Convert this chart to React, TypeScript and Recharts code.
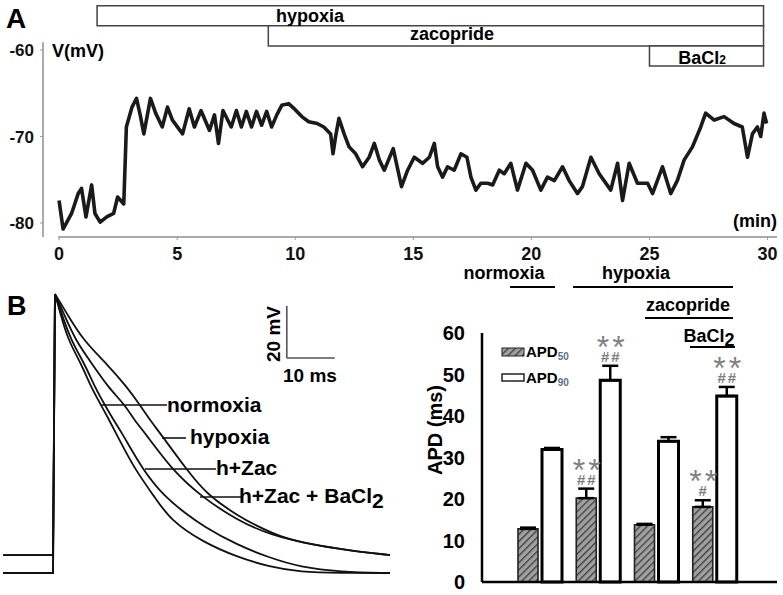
import React from 'react';
import {
  LineChart, Line, XAxis, YAxis, ReferenceArea, ReferenceLine,
  BarChart, Bar, ErrorBar, LabelList,
} from 'recharts';

const FONT = '"Liberation Sans", Arial, Helvetica, sans-serif';

// ---- panel A: membrane potential during the protocol (min, mV)
const timeMin = [
  0, 0.17, 0.53, 0.81, 0.95, 1.14, 1.38, 1.52, 1.74, 2.02, 2.31, 2.48, 2.74, 2.85,
  3.09, 3.28, 3.45, 3.59, 3.87, 4.09, 4.37, 4.59, 4.8, 5.23, 5.51, 5.73, 6.01, 6.37,
  6.58, 6.75, 6.94, 7.29, 7.51, 7.72, 7.93, 8.15, 8.36, 8.58, 8.79, 9.0, 9.22, 9.43,
  9.72, 10.0, 10.28, 10.57, 10.93, 11.21, 11.5, 11.6, 11.71, 11.85, 12.07, 12.28,
  12.56, 12.85, 13.13, 13.35, 13.56, 13.77, 14.15, 14.5, 14.76, 15.04, 15.39, 15.68,
  15.89, 16.03, 16.24, 16.45, 16.73, 17.02, 17.27, 17.44, 17.65, 17.86, 18.15, 18.36,
  18.64, 18.85, 19.13, 19.41, 19.77, 20.05, 20.4, 20.68, 20.97, 21.32, 21.6, 21.95,
  22.16, 22.52, 22.87, 23.36, 23.65, 23.86, 24.14, 24.49, 24.92, 25.13, 25.55, 25.9,
  26.18, 26.47, 26.82, 27.17, 27.38, 27.74, 28.16, 28.58, 28.93, 29.15, 29.36, 29.57,
  29.71, 29.85, 29.96,
];
const vmA = [
  -77.4, -80.7, -78.9, -76.6, -76.0, -79.3, -75.6, -78.9, -79.9, -79.3, -78.9, -77.0, -77.8, -68.9,
  -66.6, -65.6, -67.7, -69.7, -65.6, -67.3, -68.9, -66.6, -68.1, -69.7, -66.8, -68.9, -67.0, -69.3,
  -67.5, -70.8, -67.0, -68.9, -67.0, -68.9, -67.1, -68.9, -67.1, -68.7, -67.1, -68.9, -67.5, -66.4,
  -66.2, -66.9, -67.7, -68.3, -68.5, -68.9, -69.7, -72.0, -70.0, -67.9, -69.7, -71.2,
  -72.0, -73.5, -72.4, -70.8, -72.7, -73.9, -71.4, -75.8, -73.9, -72.4, -73.1, -72.4,
  -70.8, -73.5, -74.7, -73.5, -73.9, -72.0, -72.4, -74.7, -76.2, -75.4, -75.4, -75.6,
  -73.9, -74.3, -73.1, -76.2, -73.1, -73.9, -76.2, -74.7, -75.1, -73.5, -75.1, -76.6,
  -75.8, -72.4, -74.3, -76.2, -73.1, -77.4, -73.1, -75.4, -75.4, -76.6, -73.5, -76.6,
  -75.1, -72.7, -71.2, -68.9, -67.3, -68.1, -67.7, -68.5, -68.9, -72.4, -69.7, -68.9,
  -70.0, -67.3, -68.5,
];
const xTicksA = [0, 5, 10, 15, 20, 25, 30];
const yTicksA = [-80, -70, -60];
// drug application bars: start (min), common end, and their levels (mV units of the plot)
const protocolStart = [1.61, 8.86, 25.0];
const protocolEnd = 29.83;
const protocolLevels = [-54.88, -57.19, -59.54, -61.85];

// ---- panel B left: action potentials (ms, mV); first 3 points = rest + upstroke
const apNormT = [-10.6, -0.2, 0.2, 1.25, 2.9, 5.8, 7.7, 9.8, 11.5, 12.9, 16.9, 21.0, 24.2, 31.0, 38.1, 45.0, 51.25, 59.6, 70.0];
const apNormV = [-80, -80, 27.3, 20.4, 9.6, 0.0, -8.5, -15.4, -21.2, -26.2, -40.4, -50.8, -59.6, -68.1, -73.8, -77.7, -79.6, -80, -80];
const apZacT = [-10.6, -0.2, 0.2, 1.46, 3.5, 6.5, 8.5, 10.6, 12.4, 14.2, 18.5, 23.1, 27.3, 31.0, 38.1, 45.0, 51.25, 59.6, 70.0];
const apZacV = [-80, -80, 27.3, 20.4, 9.6, 0.0, -8.5, -15.4, -21.2, -26.2, -40.4, -50.8, -56.9, -61.9, -69.2, -74.2, -77.7, -79.6, -80];
const apBaT = [-10.6, -0.2, 0.2, 1.9, 4.4, 8.1, 11.25, 14.8, 16.7, 19.0, 24.6, 30.8, 38.1, 45.0, 54.0, 61.0, 70.0];
const apBaV = [-73.1, -73.1, 27.3, 20.4, 9.6, 0.0, -8.5, -15.4, -21.2, -26.2, -40.4, -50.8, -59.6, -65.4, -69.2, -71.2, -73.1];
const apHypT = [-10.6, -0.2, 0.2, 2.5, 6.0, 11.25, 15.2, 17.9, 20.0, 22.1, 27.7, 31.9, 38.75, 41.9, 47.1, 54.0, 61.0, 70.0];
const apHypV = [-73.1, -73.1, 27.3, 20.4, 9.6, 0.0, -8.5, -15.4, -21.2, -26.2, -40.4, -50.0, -58.5, -61.5, -66.2, -69.2, -71.2, -73.1];

// ---- panel B right: APD bars (ms)
const conditions = ['normoxia', 'hypoxia', 'h+Zac', 'h+Zac+BaCl2'];
const apd50 = [12.8, 20.2, 13.8, 18.1];
const apd50Err = [0.3, 2.3, 0.2, 1.6];
const apd90 = [31.9, 48.6, 33.9, 44.8];
const apd90Err = [0.4, 3.5, 1.0, 2.2];
const stars50 = ['', '**', '', '**'];
const hashes50 = ['', '##', '', '#'];
const stars90 = ['', '**', '', '**'];
const hashes90 = ['', '##', '', '##'];
const yTicksB = [0, 10, 20, 30, 40, 50, 60];

const traceA = timeMin.map((t, i) => ({ t, v: vmA[i] }));
const toPts = (ts: number[], vs: number[]) => ts.map((t, i) => ({ t, v: vs[i] }));
const apCurves = [
  toPts(apNormT, apNormV),
  toPts(apZacT, apZacV),
  toPts(apBaT, apBaV),
  toPts(apHypT, apHypV),
];
const barData = conditions.map((c, i) => ({
  cond: c,
  apd50: apd50[i],
  apd90: apd90[i],
  e50: [0, apd50Err[i]],
  e90: [0, apd90Err[i]],
}));

const tickA = { fill: '#111', fontSize: 18, fontWeight: 700, fontFamily: FONT };

const sigMarks = (stars: string[], hashes: string[], errs: number[], vals: number[]) =>
  (props: any) => {
    const { x, y, width, height, index } = props;
    if (index == null || !stars[index]) return null;
    const top = y - (errs[index] * height) / vals[index];
    const cx = x + width / 2;
    return (
      <g fontFamily={FONT} fill="#808080">
        <text x={cx + 2} y={top - 8} textAnchor="middle" fontSize={32} letterSpacing={3}>
          {stars[index]}
        </text>
        <text x={cx + 1} y={top - 4} textAnchor="middle" fontSize={15} fontWeight={700} letterSpacing={2}>
          {hashes[index]}
        </text>
      </g>
    );
  };

export default function App() {
  return (
    <div style={{ position: 'absolute', left: 0, top: 0, width: 783, height: 595, background: '#fff', fontFamily: FONT }}>
      <div style={{ position: 'absolute', left: 0, top: 0 }}>
        <LineChart width={783} height={270} data={traceA} margin={{ top: 2, right: 6, left: 0, bottom: 3 }}>
          <XAxis
            type="number" dataKey="t" domain={[-0.68, 30.4]} ticks={xTicksA} allowDataOverflow
            axisLine={false} tickLine={{ stroke: '#999' }} tickSize={3} tickMargin={7} height={30} tick={tickA}
          />
          <YAxis
            type="number" domain={[-81.62, -54.45]} ticks={yTicksA} allowDataOverflow width={43}
            axisLine={false} tickLine={{ stroke: '#999' }} tickSize={3} tickMargin={6} tick={{ ...tickA, fontSize: 17 }}
          />
          <ReferenceLine segment={[{ x: -0.68, y: -81.62 }, { x: -0.68, y: -59.1 }]} stroke="#aaa" strokeWidth={2} ifOverflow="visible" />
          <ReferenceLine segment={[{ x: -0.04, y: -81.62 }, { x: 30.4, y: -81.62 }]} stroke="#aaa" strokeWidth={2} ifOverflow="visible" />
          {protocolStart.map((s, i) => (
            <ReferenceArea
              key={i} x1={s} x2={protocolEnd} y1={protocolLevels[i + 1]} y2={protocolLevels[i]}
              ifOverflow="visible" fill="#fff" fillOpacity={1} stroke="#444" strokeWidth={1.5}
            />
          ))}
          <Line
            type="linear" dataKey="v" stroke="#1a1a1a" strokeWidth={3.6} strokeLinejoin="round"
            dot={false} isAnimationActive={false}
          />
        </LineChart>
      </div>

      <div style={{ position: 'absolute', left: 0, top: 280 }}>
        <LineChart width={400} height={315} margin={{ top: 0, right: 0, left: 0, bottom: 0 }}>
          <XAxis type="number" dataKey="t" domain={[-11.25, 72.08]} hide allowDataOverflow />
          <YAxis type="number" domain={[-88.46, 32.69]} hide allowDataOverflow />
          {apCurves.map((d, i) => (
            <Line key={'u' + i} data={d.slice(0, 3)} type="linear" dataKey="v" stroke="#111" strokeWidth={1.8} dot={false} isAnimationActive={false} />
          ))}
          {apCurves.map((d, i) => (
            <Line key={'d' + i} data={d.slice(2)} type="basis" dataKey="v" stroke="#111" strokeWidth={1.8} dot={false} isAnimationActive={false} />
          ))}
          <ReferenceLine segment={[{ x: 48.5, y: 2.7 }, { x: 48.5, y: 22.7 }]} stroke="#555" strokeWidth={1.6} ifOverflow="visible" />
          <ReferenceLine segment={[{ x: 48.5, y: 2.7 }, { x: 58.5, y: 2.7 }]} stroke="#555" strokeWidth={1.6} ifOverflow="visible" />
        </LineChart>
      </div>

      <div style={{ position: 'absolute', left: 400, top: 320 }}>
        <BarChart width={383} height={275} data={barData} margin={{ top: 13, right: 6, left: 0, bottom: 12 }} barSize={20} barGap={4}>
          <defs>
            <pattern id="hatch" patternUnits="userSpaceOnUse" width="5" height="5" patternTransform="rotate(45)">
              <rect width="5" height="5" fill="#a0a0a0" />
              <line x1="0" y1="0" x2="0" y2="5" stroke="#3a3a3a" strokeWidth="2.6" />
            </pattern>
          </defs>
          <XAxis dataKey="cond" padding={{ left: 29, right: 33 }} tick={false} tickLine={false} axisLine={{ stroke: '#000', strokeWidth: 2.5 }} height={1} />
          <YAxis
            domain={[0, 60]} ticks={yTicksB} width={82} axisLine={{ stroke: '#000', strokeWidth: 2.5 }}
            tickLine={false} tickMargin={11} tick={{ fill: '#000', fontSize: 20, fontWeight: 700, fontFamily: FONT }}
          />
          <Bar dataKey="apd50" fill="url(#hatch)" stroke="#222" strokeWidth={1.6} isAnimationActive={false}>
            <ErrorBar dataKey="e50" width={8} stroke="#000" strokeWidth={2.5} isAnimationActive={false} />
            <LabelList dataKey="apd50" content={sigMarks(stars50, hashes50, apd50Err, apd50)} />
          </Bar>
          <Bar dataKey="apd90" fill="#fff" stroke="#000" strokeWidth={3} isAnimationActive={false}>
            <ErrorBar dataKey="e90" width={8} stroke="#000" strokeWidth={2.5} isAnimationActive={false} />
            <LabelList dataKey="apd90" content={sigMarks(stars90, hashes90, apd90Err, apd90)} />
          </Bar>
        </BarChart>
      </div>

      <svg width={783} height={595} style={{ position: 'absolute', left: 0, top: 0, pointerEvents: 'none' }} fontFamily={FONT} fontWeight={700}>
        <defs>
          <pattern id="hatchLegend" patternUnits="userSpaceOnUse" width="5" height="5" patternTransform="rotate(45)">
            <rect width="5" height="5" fill="#a0a0a0" />
            <line x1="0" y1="0" x2="0" y2="5" stroke="#3a3a3a" strokeWidth="2.6" />
          </pattern>
        </defs>
        {/* panel A */}
        <text x={6} y={28} fontSize={28}>A</text>
        <text x={310} y={21.5} fontSize={18} textAnchor="middle">hypoxia</text>
        <text x={452} y={40} fontSize={18} textAnchor="middle">zacopride</text>
        <text x={702} y={64} fontSize={18} textAnchor="middle">BaCl<tspan fontSize={12}>2</tspan></text>
        <text x={52} y={57} fontSize={18}>V(mV)</text>
        <text x={777} y={227} fontSize={18} textAnchor="end">(min)</text>

        {/* panel B left */}
        <text x={7} y={315} fontSize={27}>B</text>
        <text x={280} y={334} fontSize={19} textAnchor="middle" transform="rotate(-90 280 334)">20 mV</text>
        <text x={283} y={382} fontSize={19}>10 ms</text>
        <g stroke="#111" strokeWidth={1.6}>
          <line x1={101} y1={405} x2={167} y2={405} />
          <line x1={162} y1={438} x2={186} y2={438} />
          <line x1={145} y1={469} x2={216} y2={469} />
          <line x1={200} y1={497} x2={242} y2={497} />
        </g>
        <text x={167} y={412} fontSize={21}>normoxia</text>
        <text x={190} y={444} fontSize={21}>hypoxia</text>
        <text x={216} y={475} fontSize={21}>h+Zac</text>
        <text x={239} y={503} fontSize={21}>h+Zac + BaCl<tspan fontSize={21} dy={5}>2</tspan></text>

        {/* panel B right */}
        <text x={504} y={279} fontSize={18} textAnchor="middle">normoxia</text>
        <text x={636} y={279} fontSize={18} textAnchor="middle">hypoxia</text>
        <text x={688} y={311} fontSize={18} textAnchor="middle">zacopride</text>
        <text x={709} y={342} fontSize={18} textAnchor="middle">BaCl<tspan fontSize={18} dy={4}>2</tspan></text>
        <g stroke="#000" strokeWidth={2}>
          <line x1={510} y1={287} x2={555} y2={287} />
          <line x1={573} y1={287} x2={733} y2={287} />
          <line x1={645} y1={318} x2={733} y2={318} />
          <line x1={690} y1={347} x2={735} y2={347} />
        </g>
        <text x={442} y={430} fontSize={20} textAnchor="middle" transform="rotate(-90 442 430)">APD (ms)</text>
        <rect x={502} y={348} width={22} height={8} fill="url(#hatchLegend)" stroke="#222" strokeWidth={1} />
        <rect x={502} y={374} width={22} height={7} fill="#fff" stroke="#222" strokeWidth={1.5} />
        <text x={526} y={357} fontSize={15}>APD<tspan fontSize={10} dy={3} fill="#5b6f8a">50</tspan></text>
        <text x={526} y={383} fontSize={15}>APD<tspan fontSize={10} dy={3} fill="#5b6f8a">90</tspan></text>
      </svg>
    </div>
  );
}
